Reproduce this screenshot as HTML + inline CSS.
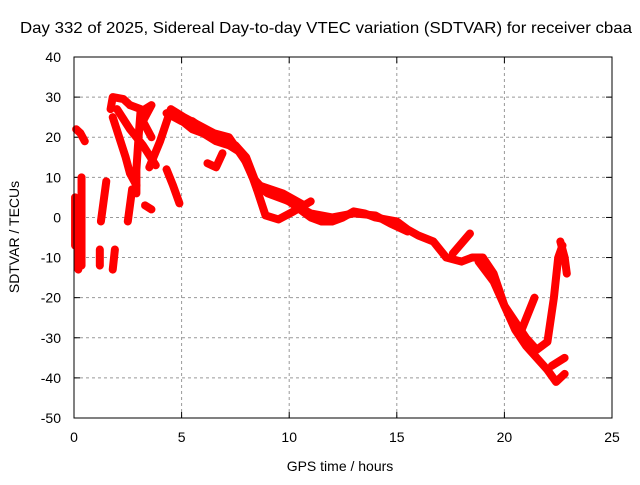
<!DOCTYPE html>
<html><head><meta charset="utf-8"><style>
body{margin:0;background:#fff;width:640px;height:480px;overflow:hidden}
svg text{font-family:"Liberation Sans",sans-serif;font-size:14px;fill:#000}
</style></head><body>
<svg id="c" width="640" height="480">
<text x="326" y="33" text-anchor="middle" textLength="612" lengthAdjust="spacingAndGlyphs" style="font-size:15.6px">Day 332 of 2025, Sidereal Day-to-day VTEC variation (SDTVAR) for receiver cbaa</text>
<text x="340" y="471" text-anchor="middle">GPS time / hours</text>
<text x="19" y="237" text-anchor="middle" transform="rotate(-90 19 237)">SDTVAR / TECUs</text>
<g id="grid"></g><g id="marks"></g>
<rect x="74" y="57" width="538" height="361" fill="none" stroke="#000" stroke-width="1"/>
</svg>
<script>
const xTicks=[0,5,10,15,20,25];
const yTicks=[40,30,20,10,0,-10,-20,-30,-40,-50];
const trackMain=[[4.3,26],[5,24],[5.5,24],[6,22],[6.5,20],[7,19],[7.5,18],[8,15],[8.5,8],[9,6],[10,4],[10.5,2],[11,0],[11.5,-1],[12,-1],[12.5,0],[13,1.5],[13.5,1],[14,0],[15,-1],[15.5,-3],[16,-4.5],[16.7,-6],[17.3,-10],[18,-11],[18.5,-10],[19,-10],[19.5,-14],[20,-22],[20.5,-28],[21,-32],[21.5,-35],[22,-38],[22.4,-41],[22.8,-39]];
const trackMain2=[[4.8,25],[5.5,22],[6,21],[6.6,19],[7.2,18],[7.8,16],[8.3,10],[8.8,7],[9.5,5.5],[10.3,3],[11,1],[12,0],[13,1],[14,0.5],[14.7,-1.5],[15.5,-3.5]];
const trackLoop9=[[8.5,7],[8.9,0.5],[9.5,-0.5],[10.2,1.5],[11,4]];
const trackLoop9b=[[8.6,8],[9.7,6],[10.7,3]];
const trackBranch18=[[17.6,-9],[18.4,-4]];
const trackLower=[[18.8,-11],[19.5,-16],[20,-22],[20.5,-26],[21,-30],[21.5,-33],[22,-31],[22.3,-20],[22.5,-10],[22.7,-7]];
const trackHook22=[[22.6,-6],[22.8,-10],[22.9,-14]];
const trackBranch21=[[20.8,-28],[21.4,-20]];
const trackTail=[[22.2,-37],[22.8,-35]];
const trackEarly1=[[0.1,22],[0.3,21],[0.5,19]];
const trackEarly2=[[1.7,27],[1.8,30],[2.3,29.5],[2.6,28]];
const trackEarly3=[[1.8,25],[2.1,20],[2.4,15],[2.6,11],[2.9,8]];
const trackEarly4=[[2.6,28],[3.1,27],[3.0,20],[2.9,12],[2.9,6]];
const trackEarly5=[[2.0,27],[2.6,22],[3.2,18],[3.8,13]];
const trackEarly6=[[3.3,27],[3.6,28],[3.2,24],[3.6,20]];
const trackEarly7=[[3.5,12.5],[4.0,19],[4.5,27],[5.1,25],[6.5,21],[7.2,20],[8.1,13],[8.5,7]];
const trackEarly8=[[4.3,12],[4.6,8],[4.9,3.5]];
const trackHook6=[[6.2,13.5],[6.6,12.5],[6.9,16]];
const trackBlob=[[3.3,3],[3.6,2]];
const vert1=[[0.05,-7],[0.05,5]];
const vert2=[[0.35,-12],[0.35,10]];
const vert3=[[0.2,-13],[0.2,-3]];
const vert4=[[1.2,-12],[1.2,-8]];
const vert5=[[1.25,-1],[1.5,9]];
const vert6=[[1.8,-13],[1.9,-8]];
const vert7=[[2.5,-1],[2.7,7]];
const tracks=[trackMain,trackMain2,trackLoop9,trackLoop9b,trackBranch18,trackLower,trackHook22,trackBranch21,trackTail,trackEarly1,trackEarly2,trackEarly3,trackEarly4,trackEarly5,trackEarly6,trackEarly7,trackEarly8,trackHook6,trackBlob,vert1,vert2,vert3,vert4,vert5,vert6,vert7];
const X0=74,X1=612,Y0=418,Y1=57;
function sx(h){return X0+(h-0)/(25-0)*(X1-X0);}
function sy(v){return Y0-(v+50)/(90)*(Y0-Y1);}
const NS="http://www.w3.org/2000/svg";
const svg=document.getElementById('c'),grid=document.getElementById('grid'),marks=document.getElementById('marks');
function mk(t,a,p){const e=document.createElementNS(NS,t);for(const k in a)e.setAttribute(k,a[k]);(p||svg).appendChild(e);return e;}
xTicks.forEach(t=>{const x=sx(t);
 if(t>0&&t<25){const g=mk('line',{x1:x,x2:x,y1:Y0,y2:Y1,stroke:'#999','stroke-dasharray':'3,3'},grid);
 
 }
 mk('line',{x1:x,x2:x,y1:Y0,y2:Y0-6,stroke:'#000'},grid);
 mk('line',{x1:x,x2:x,y1:Y1,y2:Y1+6,stroke:'#000'},grid);
 const l=mk('text',{x:x,y:Y0+24,'text-anchor':'middle'});l.textContent=t;
 
 
});
yTicks.forEach(t=>{const y=sy(t);
 if(t>-50&&t<40){const g=mk('line',{x1:X0,x2:X1,y1:y,y2:y,stroke:'#999','stroke-dasharray':'3,3'},grid);
 
 }
 mk('line',{x1:X0,x2:X0+6,y1:y,y2:y,stroke:'#000'},grid);
 mk('line',{x1:X1,x2:X1-6,y1:y,y2:y,stroke:'#000'},grid);
 const l=mk('text',{x:X0-13,y:y+5,'text-anchor':'end'});l.textContent=t;
 
 
});
tracks.forEach(tr=>{
 const p=mk('polyline',{points:tr.map(d=>sx(d[0])+','+sy(d[1])).join(' '),fill:'none',stroke:'#f00','stroke-width':8,'stroke-linejoin':'round','stroke-linecap':'round'},marks);
 
 
});
</script>
</body></html>
